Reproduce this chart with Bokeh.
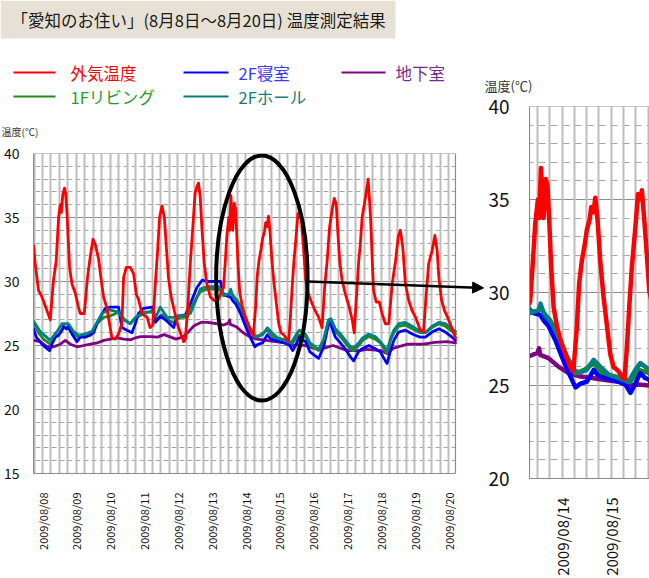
from math import pi

import numpy as np
from bokeh.core.properties import value
from bokeh.embed import file_html
from bokeh.layouts import column, row
from bokeh.models import (Arrow, FixedTicker, Grid, NormalHead, Range1d,
                          SingleIntervalTicker, Title)
from bokeh.plotting import figure
from bokeh.resources import INLINE

FONT = "Noto Sans CJK JP"
TITLE = "「愛知のお住い」(8月8日～8月20日) 温度測定結果"
Y_LABEL = "温度(℃)"

# x tick labels: one per day, day 0 = 2009/08/08 00:00
DAY_LABELS = ["2009/08/08", "2009/08/09", "2009/08/10", "2009/08/11", "2009/08/12",
              "2009/08/13", "2009/08/14", "2009/08/15", "2009/08/16", "2009/08/17",
              "2009/08/18", "2009/08/19", "2009/08/20"]

# --- measurements: hours since 2009/08/08 00:00 and temperature (degC) ---
outdoor_h = [-6.3, -5.2, -2.8, -0.4, 1.9, 5.5, 7.8, 9.7, 11.4, 12.6,
             13.4, 14.4, 15.6, 16.4, 17.3, 19.2, 20.9, 23.2, 25.5, 26.7,
             29.6, 31.9, 33.8, 35.8, 37.4, 39.7, 41.4, 43.3, 45.7, 47.5,
             49.2, 51.6, 53.9, 56.3, 57.5, 59.4, 62.2, 64.6, 66.5, 68.1,
             70.5, 74.2, 76.3, 78.2, 80.0, 81.6, 83.0, 84.7, 86.4, 87.8,
             89.3, 91.2, 92.9, 95.3, 97.7, 100.1, 101.3, 103.0, 104.9, 106.6,
             108.2, 109.4, 110.6, 111.8, 113.0, 114.7, 116.6, 119.0, 121.9, 124.8,
             127.2, 128.3, 129.5, 130.8, 132.1, 132.7, 133.6, 134.4, 134.9, 136.0,
             136.8, 137.6, 138.6, 139.8, 141.4, 143.0, 145.5, 147.9, 149.5, 151.2,
             152.3, 153.6, 154.9, 156.1, 157.4, 158.2, 159.3, 160.2, 161.3, 162.6,
             164.2, 165.9, 167.5, 169.1, 171.3, 173.2, 174.5, 175.7, 176.8, 178.1,
             179.8, 181.1, 182.2, 183.0, 184.3, 185.5, 186.6, 188.6, 191.0, 193.4,
             195.8, 198.2, 200.0, 201.8, 203.5, 205.2, 206.9, 208.3, 209.3, 210.7,
             212.4, 214.8, 217.2, 219.6, 221.0, 223.0, 224.2, 225.4, 226.6, 229.0,
             230.9, 232.6, 233.8, 234.7, 236.6, 238.8, 240.7, 243.1, 245.5, 247.9,
             250.3, 252.2, 253.7, 255.4, 257.3, 259.7, 262.1, 264.5, 267.8, 270.2,
             271.9, 273.8, 276.2, 278.2, 279.8, 281.0, 283.0, 285.1, 288.0, 290.4,
             292.8]
outdoor_t = [32.8, 31.4, 29.3, 28.8, 28.1, 27.0, 30.1, 31.6, 35.0, 36.0,
             35.4, 36.8, 37.3, 36.9, 35.5, 31.1, 29.8, 29.1, 28.0, 27.5,
             27.5, 30.3, 31.9, 33.3, 32.9, 31.8, 30.3, 28.8, 27.9, 26.7,
             25.6, 25.5, 25.9, 26.7, 30.3, 31.1, 31.1, 30.6, 29.0, 28.6,
             27.5, 27.2, 26.4, 26.6, 29.8, 32.4, 35.0, 35.9, 35.0, 32.7,
             30.3, 28.8, 28.0, 26.8, 26.0, 25.3, 25.5, 28.0, 31.6, 34.3,
             36.9, 37.4, 37.7, 36.6, 34.2, 31.4, 29.8, 28.8, 28.5, 28.6,
             29.3, 29.5, 31.4, 33.7, 35.0, 34.0, 36.7, 35.1, 34.0, 36.1,
             35.7, 34.0, 31.4, 29.2, 28.2, 27.5, 26.7, 26.0, 25.8, 28.2,
             30.5, 31.7, 32.5, 33.4, 33.9, 34.6, 34.3, 35.1, 33.9, 31.7,
             29.8, 28.2, 26.7, 26.0, 25.8, 25.5, 25.35, 27.1, 29.2, 31.4,
             33.5, 35.3, 35.0, 35.5, 33.7, 31.9, 30.1, 29.0, 28.3, 27.7,
             27.2, 26.4, 29.5, 31.6, 34.2, 35.5, 36.5, 36.0, 34.0, 31.6,
             30.1, 29.0, 28.1, 27.0, 26.0, 29.5, 31.6, 33.0, 35.0, 36.6,
             38.0, 35.0, 31.6, 29.3, 28.4, 28.4, 27.5, 26.7, 26.7, 29.8,
             31.6, 33.5, 34.0, 32.7, 29.8, 28.5, 27.7, 27.2, 26.2, 26.1,
             28.8, 31.4, 32.4, 33.6, 32.4, 30.3, 28.5, 27.7, 27.0, 26.3,
             25.6]

bedroom_h = [-6.3, -4.4, -0.4, 3.2, 5.0, 6.7, 9.1, 11.4, 13.8, 14.9,
             16.8, 18.4, 20.9, 24.4, 26.8, 30.3, 33.8, 36.2, 38.6, 40.9,
             44.5, 48.0, 53.9, 55.1, 56.3, 59.9, 63.4, 65.8, 68.1, 71.6,
             78.0, 80.0, 83.5, 88.3, 93.0, 95.4, 101.3, 104.9, 109.6, 113.2,
             116.8, 126.3, 127.5, 128.4, 129.8, 133.2, 134.9, 137.3, 140.6, 143.8,
             147.1, 150.5, 152.9, 156.0, 159.4, 161.8, 165.1, 168.2, 171.6, 175.0,
             177.4, 179.8, 182.2, 184.6, 186.7, 189.6, 195.8, 199.4, 202.8, 204.0,
             207.6, 211.2, 214.8, 218.4, 220.6, 224.2, 226.6, 231.4, 235.9, 239.5,
             243.1, 244.3, 246.7, 249.1, 252.5, 257.3, 262.1, 267.8, 271.4, 276.2,
             281.0, 285.6, 290.4, 292.8]
bedroom_t = [26.3, 25.65, 25.1, 24.75, 24.6, 25.1, 25.65, 25.8, 26.2, 26.5,
             26.3, 26.5, 25.9, 25.3, 25.65, 25.65, 25.8, 26.0, 26.7, 27.2,
             27.9, 28.0, 28.0, 27.2, 26.4, 26.2, 26.0, 26.7, 27.5, 27.9,
             28.0, 26.8, 27.3, 26.9, 26.4, 27.3, 27.4, 28.3, 29.55, 30.1,
             30.0, 30.0, 29.1, 29.06, 28.9, 28.8, 28.5, 28.2, 27.45, 26.55,
             25.7, 24.9, 25.1, 25.2, 25.84, 25.5, 25.4, 25.3, 25.2, 25.04,
             24.6, 25.1, 25.67, 25.4, 25.3, 24.5, 24.0, 24.9, 26.7, 26.8,
             25.65, 25.2, 24.7, 24.1, 23.8, 24.55, 24.75, 25.0, 24.75, 24.5,
             23.8, 23.6, 24.6, 25.4, 26.05, 26.2, 25.9, 25.65, 25.65, 26.05,
             26.3, 26.05, 25.65, 25.4]

living_h = [-6.3, -2.8, 0.7, 5.5, 9.0, 12.6, 14.9, 18.4, 22.0, 25.5,
            30.3, 35.0, 38.6, 43.3, 48.0, 53.9, 57.5, 62.2, 67.0, 71.6,
            77.8, 81.4, 84.9, 89.2, 92.7, 97.7, 102.6, 106.9, 111.9, 116.8,
            124.6, 127.3, 128.4, 131.5, 134.0, 137.3, 140.6, 143.8, 147.1, 150.5,
            154.8, 159.4, 163.2, 168.2, 173.3, 177.4, 181.4, 186.7, 189.6, 195.8,
            199.4, 202.8, 205.0, 207.6, 211.2, 214.8, 218.4, 220.6, 224.2, 227.0,
            231.4, 235.9, 239.5, 243.1, 244.3, 246.7, 249.1, 252.5, 257.3, 262.1,
            267.8, 271.4, 276.2, 281.0, 285.6, 290.4, 292.8]
living_t = [26.8, 26.0, 25.5, 25.1, 25.65, 26.0, 26.4, 26.3, 25.9, 25.65,
            25.8, 26.0, 26.7, 27.2, 27.3, 27.6, 27.1, 26.7, 27.2, 27.5,
            27.7, 27.0, 27.4, 27.0, 26.8, 27.2, 27.2, 28.3, 29.2, 29.4,
            29.4, 29.2, 28.9, 29.0, 29.1, 28.5, 27.8, 26.9, 26.1, 25.67,
            25.84, 26.2, 25.67, 25.53, 25.4, 25.2, 25.84, 25.67, 25.0, 24.6,
            25.3, 27.0, 26.9, 26.1, 25.7, 25.2, 24.7, 24.6, 25.0, 25.4,
            25.7, 25.5, 25.2, 24.6, 24.4, 25.4, 26.0, 26.5, 26.6, 26.3,
            26.0, 26.0, 26.4, 26.7, 26.5, 26.1, 25.9]

hall_h = [-6.3, -1.6, 5.5, 10.3, 13.8, 18.4, 22.0, 25.5, 30.3, 35.0,
          38.6, 42.2, 46.9, 53.9, 57.5, 62.2, 65.8, 71.6, 77.8, 80.7,
          83.5, 88.3, 92.9, 97.7, 104.9, 111.9, 116.8, 124.6, 127.4, 128.4,
          132.5, 133.4, 134.9, 138.2, 142.3, 146.4, 149.8, 152.2, 156.0, 159.4,
          162.7, 166.8, 171.6, 176.4, 179.8, 182.2, 186.7, 189.6, 195.8, 199.4,
          202.8, 204.5, 207.6, 211.2, 214.8, 218.4, 220.6, 224.2, 227.0, 231.4,
          235.9, 239.5, 243.1, 244.3, 246.7, 249.1, 252.5, 257.3, 262.1, 267.8,
          271.4, 276.2, 281.0, 285.6, 290.4, 292.8]
hall_t = [26.9, 26.1, 25.4, 26.1, 26.7, 26.7, 26.1, 25.8, 25.9, 26.1,
          26.8, 27.5, 27.8, 27.6, 27.0, 26.7, 27.2, 27.6, 27.6, 27.3,
          28.0, 27.2, 27.2, 27.3, 27.5, 29.4, 29.6, 29.6, 29.2, 28.9,
          29.06, 29.4, 28.9, 28.5, 27.6, 26.55, 25.84, 25.67, 25.84, 26.38,
          26.0, 25.58, 25.4, 25.2, 25.84, 26.2, 25.84, 25.2, 24.7, 25.5,
          27.0, 27.1, 26.3, 25.9, 25.4, 24.9, 24.8, 25.2, 25.6, 25.9,
          25.7, 25.3, 24.8, 24.6, 25.5, 26.2, 26.7, 26.8, 26.5, 26.1,
          26.0, 26.5, 26.8, 26.7, 26.3, 26.1]

basement_h = [-6.3, -1.6, 3.2, 7.9, 12.6, 16.2, 19.7, 24.5, 29.2, 34.0,
              38.7, 43.5, 48.2, 53.0, 57.7, 62.5, 66.0, 69.6, 76.7, 81.5,
              86.2, 91.0, 94.5, 99.3, 102.8, 107.5, 112.3, 117.0, 124.1, 128.4,
              131.8, 132.7, 133.2, 137.3, 142.3, 147.1, 152.2, 158.6, 165.1, 171.6,
              176.4, 181.4, 186.7, 192.0, 197.0, 206.0, 216.0, 225.0, 230.0, 240.0,
              244.5, 249.0, 259.0, 270.0, 278.0, 287.0, 292.8]
basement_t = [25.4, 25.3, 24.9, 24.9, 25.1, 25.4, 25.1, 24.9, 25.0, 25.1,
              25.2, 25.4, 25.5, 25.6, 25.5, 25.45, 25.6, 25.7, 25.7, 25.65,
              25.85, 25.65, 25.5, 25.65, 26.0, 26.55, 26.8, 26.8, 26.7, 26.6,
              26.75, 27.0, 26.65, 26.47, 26.0, 25.67, 25.5, 25.4, 25.3, 25.2,
              24.99, 25.05, 25.0, 24.8, 24.7, 25.0, 24.6, 24.6, 24.7, 24.6,
              24.35, 24.8, 25.1, 25.1, 25.25, 25.3, 25.2]

# legend order (row-major, 3 per row) and colours
SERIES_NAMES = ["外気温度", "2F寝室", "地下室", "1Fリビング", "2Fホール"]
LINE_COLORS = {"外気温度": "#ff0000", "2F寝室": "#0000ff", "地下室": "#800080",
               "1Fリビング": "#1f8a1f", "2Fホール": "#008080"}
TEXT_COLORS = {"外気温度": "#ff0000", "2F寝室": "#3a3aff", "地下室": "#7a2a8a",
               "1Fリビング": "#2a9a2a", "2Fホール": "#1a7a7a"}
SERIES_DATA = {"外気温度": (outdoor_h, outdoor_t), "2F寝室": (bedroom_h, bedroom_t),
               "地下室": (basement_h, basement_t), "1Fリビング": (living_h, living_t),
               "2Fホール": (hall_h, hall_t)}
# drawing order, bottom to top
DRAW_ORDER = ["地下室", "1Fリビング", "2F寝室", "2Fホール", "外気温度"]

# axis windows (days since 2009/08/08 00:00)
CHART_X = (-0.266, 12.2)       # plotted period of the main chart
MAIN_VIEW_END = 13.057         # frame runs on past the chart so the pointer can leave it
MAIN_Y = (15, 40)
ZOOM_X = (5.333, 7.78)
ZOOM_Y = (20, 40)

# highlighted period drawn as an ellipse on the main chart, and the pointer to the zoom
HL_X, HL_Y, HL_W, HL_H = 6.48, 30.27, 2.70, 19.15
POINTER_END = (13.03, 29.5)

GRID_DARK = "#8c8c8c"
GRID_MID = "#a6a6a6"
GRID_LIGHT = "#bdbdbd"
HAS_CROSS_BOUNDS = "cross_bounds" in Grid.properties()


def add_series(p, width):
    for name in DRAW_ORDER:
        hrs, temps = SERIES_DATA[name]
        days = np.asarray(hrs) / 24.0
        p.line(days, temps, line_color=LINE_COLORS[name], line_width=width,
               line_join="round", line_cap="round")


def style_axes(p, x_lo, x_hi, day_ticks, y_font, x_font, y_standoff, x_standoff, dash):
    p.xgrid.visible = False
    quarter_days = [d for d in np.arange(np.floor(x_lo), x_hi + 0.01, 0.25) if x_lo < d < x_hi]
    p.add_layout(Grid(dimension=0, ticker=FixedTicker(ticks=quarter_days),
                      grid_line_color=GRID_LIGHT, grid_line_width=2))
    yt = SingleIntervalTicker(interval=5, num_minor_ticks=5)
    p.yaxis.ticker = yt
    ylo, yhi = p.y_range.start, p.y_range.end
    if HAS_CROSS_BOUNDS or p.x_range.end <= x_hi:
        p.ygrid.ticker = yt
        p.ygrid.grid_line_color = GRID_DARK
        p.ygrid.grid_line_width = 1
        p.ygrid.minor_grid_line_color = GRID_MID
        p.ygrid.minor_grid_line_width = 1
        p.ygrid.minor_grid_line_dash = dash
        p.ygrid.minor_grid_line_dash_offset = 6
        if HAS_CROSS_BOUNDS:
            p.ygrid.cross_bounds = (x_lo, x_hi)
    else:
        p.ygrid.visible = False
        levels = np.arange(ylo, yhi + 1)
        major = [v for v in levels if v % 5 == 0]
        minor = [v for v in levels if v % 5 != 0]
        p.segment(x0=x_lo, y0=major, x1=x_hi, y1=major, line_color=GRID_DARK, line_width=1,
                  level="underlay")
        p.segment(x0=x_lo, y0=minor, x1=x_hi, y1=minor, line_color=GRID_MID, line_width=1,
                  line_dash=dash, line_dash_offset=6, level="underlay")

    p.xaxis.ticker = FixedTicker(ticks=day_ticks)
    p.xaxis.major_label_overrides = {d: DAY_LABELS[d] for d in day_ticks}
    p.xaxis.major_label_orientation = pi / 2
    p.xaxis.bounds = (x_lo, x_hi)
    for ax in p.axis:
        ax.major_tick_line_color = None
        ax.minor_tick_line_color = None
        ax.axis_line_color = GRID_DARK
        ax.major_label_text_font = FONT
        ax.major_label_text_color = "#111111"
    p.yaxis.major_label_text_font_size = y_font
    p.xaxis.major_label_text_font_size = x_font
    p.yaxis.major_label_standoff = y_standoff
    p.xaxis.major_label_standoff = x_standoff
    p.outline_line_color = None
    # frame of the plotted area
    p.quad(left=[x_lo], right=[x_hi], bottom=[ylo], top=[yhi], fill_color=None,
           line_color=GRID_DARK, line_width=1.2)
    p.background_fill_color = "white"
    p.border_fill_color = "white"
    p.frame_align = False


# ---------------- header: title band and legend ----------------
head = figure(width=484, height=140, x_range=Range1d(0, 484), y_range=Range1d(140, 0),
              x_axis_location=None, y_axis_location=None, min_border=0,
              output_backend="svg", toolbar_location=None)
head.outline_line_color = None
head.grid.visible = False
head.frame_align = False

head.quad(left=[0], right=[395], top=[0], bottom=[38], fill_color="#e6e1d4", line_color=None)
head.text(x=[11], y=[19.5], text=[TITLE], text_font=value(FONT), text_font_size="16.5px",
          text_baseline="middle", text_color="#1a1a1a")

LEGEND_COLS = [(13, 55, 70), (183, 228, 238), (341, 385, 395)]
LEGEND_ROWS = [72, 96]
for i, name in enumerate(SERIES_NAMES):
    x0, x1, xt = LEGEND_COLS[i % 3]
    y = LEGEND_ROWS[i // 3]
    head.segment(x0=[x0], y0=[y], x1=[x1], y1=[y], line_color=LINE_COLORS[name], line_width=2)
    head.text(x=[xt], y=[y], text=[name], text_font=value(FONT), text_font_size="16.5px",
              text_baseline="middle", text_color=TEXT_COLORS[name])

head.text(x=[1], y=[131], text=[Y_LABEL], text_font=value(FONT), text_font_size="10px",
          text_baseline="middle", text_color="#333333")

# ---------------- main chart ----------------
main = figure(width=484, height=438, x_range=Range1d(CHART_X[0], MAIN_VIEW_END),
              y_range=Range1d(*MAIN_Y),
              min_border_left=33, min_border_right=0, min_border_top=13, min_border_bottom=105,
              output_backend="svg", toolbar_location=None)
style_axes(main, CHART_X[0], CHART_X[1], list(range(13)), "14px", "11px", 8, 13, "5 3")
add_series(main, 2.8)

main.ellipse(x=[HL_X], y=[HL_Y], width=[HL_W], height=[HL_H], fill_color=None,
             line_color="black", line_width=4)
main.add_layout(Arrow(end=NormalHead(size=11, fill_color="black", line_color="black"),
                      x_start=HL_X + HL_W / 2, y_start=30.0,
                      x_end=POINTER_END[0], y_end=POINTER_END[1],
                      line_color="black", line_width=2.5))

# ---------------- magnified view ----------------
inset = figure(width=165, height=578, x_range=Range1d(*ZOOM_X), y_range=Range1d(*ZOOM_Y),
               min_border_left=45, min_border_right=0, min_border_top=106, min_border_bottom=99,
               output_backend="svg", toolbar_location=None)
style_axes(inset, ZOOM_X[0], ZOOM_X[1], [6, 7], "19px", "15px", 14, 13, "7 5")
inset.ygrid.minor_grid_line_dash_offset = 3
add_series(inset, 4.5)
inset.add_layout(Title(text=Y_LABEL, align="left", offset=-45, standoff=23,
                       text_font=FONT, text_font_size="13px", text_font_style="normal",
                       text_color="#333333"), "above")

layout = row(column(head, main), inset)
open("out.html", "w").write(file_html(layout, INLINE))
